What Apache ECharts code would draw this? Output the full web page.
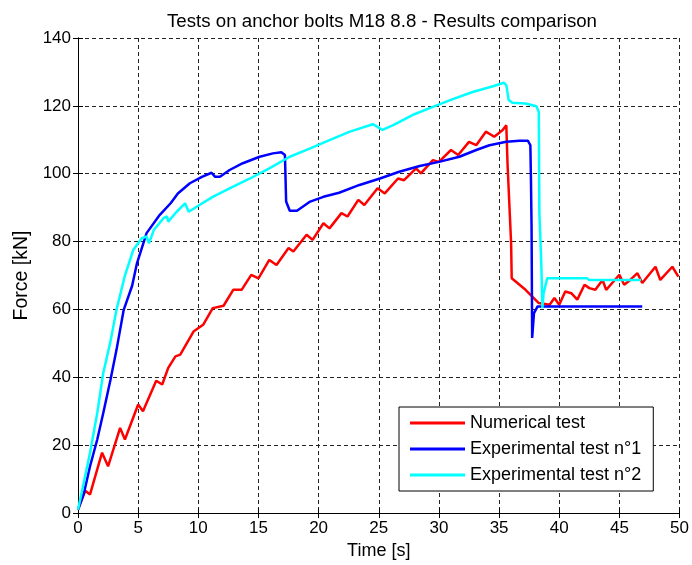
<!DOCTYPE html>
<html>
<head>
<meta charset="utf-8">
<script src="https://cdn.jsdelivr.net/npm/echarts@6/dist/echarts.min.js"></script>
<style>
html,body{margin:0;padding:0;background:#fff;}
#chart{width:692px;height:565px;}
</style>
</head>
<body>
<div id="chart"></div>
<script>
// ---- Data ----
var numT = [0, 0.6, 1.0, 2.0, 2.5, 3.5, 3.9, 5.0, 5.4, 6.5, 7.0, 7.5, 8.1, 8.5, 9.6, 10.4, 11.2, 12.1, 12.9, 13.6, 14.4, 15.0, 15.9, 16.5, 17.5, 17.9, 19.0, 19.5, 20.4, 20.9, 21.9, 22.4, 23.3, 23.8, 24.9, 25.5, 26.6, 27.1, 28.1, 28.5, 29.5, 30.0, 31.0, 31.6, 32.5, 33.1, 33.9, 34.6, 35.3, 35.6, 35.7, 35.85, 36.0, 36.05, 37.2, 38.3, 39.2, 39.6, 40.0, 40.5, 41.0, 41.5, 42.1, 42.5, 43.0, 43.6, 43.9, 44.4, 45.0, 45.4, 45.9, 46.5, 46.9, 48.0, 48.4, 49.4, 49.9];
var numF = [1, 6.6, 5.5, 17.8, 13.8, 25.1, 21.7, 32, 30, 39, 37.9, 42.8, 46.2, 46.7, 53.5, 55.5, 60.4, 61.1, 65.8, 65.8, 70.2, 69.2, 74.6, 73.1, 78.1, 77.1, 82, 80.5, 85.4, 83.9, 88.4, 87.4, 92.3, 90.8, 95.7, 94.2, 98.6, 98.1, 101.6, 100.1, 104, 103.5, 107, 105.5, 109.4, 108.4, 112.4, 110.9, 112.9, 114.3, 103.1, 91.3, 79.5, 69.2, 65.8, 61.9, 61.4, 63.4, 61.4, 65.3, 64.8, 62.9, 67.3, 66.3, 65.8, 68.7, 65.8, 67.8, 70.2, 67.3, 68.7, 70.7, 67.8, 72.6, 68.7, 72.6, 69.7];

var exp1T = [0, 0.5, 1.0, 1.6, 2.1, 2.7, 3.2, 3.8, 4.5, 4.9, 5.7, 6.8, 7.7, 8.3, 9.3, 10.3, 11.1, 11.4, 11.8, 12.6, 13.7, 15.1, 16.2, 16.9, 17.2, 17.3, 17.6, 18.2, 19.3, 20.4, 21.7, 23.4, 25.1, 26.7, 28.4, 30.0, 31.7, 33.1, 34.2, 35.6, 36.7, 37.4, 37.6, 37.65, 37.7, 37.75, 37.9, 38.2, 46.9];
var exp1F = [1, 6, 13.8, 21.7, 29.5, 39.3, 48.1, 59.9, 67, 73.6, 82.5, 87.9, 91.3, 94.2, 97.2, 99.1, 100.3, 99.1, 99.1, 101.1, 103.1, 105, 106, 106.3, 105.5, 91.8, 89.1, 89.1, 91.8, 93.2, 94.4, 96.7, 98.6, 100.6, 102.3, 103.5, 105, 107, 108.4, 109.4, 109.7, 109.7, 108.4, 98.1, 84.4, 51.6, 58.9, 60.9, 60.9];

var exp2T = [0, 0.3, 1.0, 1.6, 2.1, 2.7, 3.2, 3.9, 4.6, 5.3, 5.7, 5.9, 6.3, 7.1, 7.4, 7.5, 8.2, 8.9, 9.2, 10.1, 11.2, 12.6, 14.3, 15.9, 17.6, 19.3, 20.9, 22.6, 24.5, 24.9, 25.3, 26.2, 27.8, 29.5, 31.1, 32.8, 34.5, 35.4, 35.6, 35.8, 36.1, 37.2, 38.1, 38.3, 38.35, 38.5, 38.6, 38.7, 39.0, 42.3, 42.5, 46.8];
var exp2F = [1, 6, 17.8, 29.5, 41.3, 50.6, 59.9, 70, 77.6, 81, 81.5, 79.5, 83.4, 86.9, 87.4, 85.9, 88.8, 91.3, 88.8, 90.8, 93.2, 95.7, 98.6, 101.6, 105, 107.5, 109.9, 112.4, 114.6, 113.8, 112.9, 114.3, 117.3, 119.7, 121.9, 124.1, 125.8, 126.8, 126.1, 121.7, 120.9, 120.7, 119.9, 118.2, 88.4, 74.6, 60.4, 64.8, 69.2, 69.2, 68.7, 68.7];

var seriesNames = ['Numerical test', 'Experimental test n°1', 'Experimental test n°2'];
var seriesColors = ['#ff0000', '#0000ff', '#00ffff'];
var titleText = 'Tests on anchor bolts M18 8.8 - Results comparison';
var xName = 'Time [s]';
var yName = 'Force [kN]';

function zip(t, f) { return t.map(function (v, i) { return [v, f[i]]; }); }

var FONT = "'Liberation Sans', Arial, sans-serif";
var chart = echarts.init(document.getElementById('chart'), null, {renderer: 'canvas'});

var dashed = {show: true, lineStyle: {color: '#222', width: 1, type: [4, 3]}};
var axLine = {show: true, lineStyle: {color: '#000', width: 1}};
var tick = {show: true, inside: true, length: 5, lineStyle: {color: '#000'}};
// thin horizontal bar icon; the two tiny sub-paths only fix the bounding box (55 x 18)
var legendLineIcon = 'path://M0,0L0.01,0M0,7.5L55,7.5L55,10.5L0,10.5ZM55,18L54.99,18';

var option = {
  backgroundColor: '#fff',
  animation: false,
  title: {
    text: titleText,
    left: 377, top: 7, textAlign: 'center',
    textStyle: {fontFamily: FONT, fontSize: 18.7, fontWeight: 'normal', color: '#000'}
  },
  grid: {left: 78, right: 11, top: 38, bottom: 51, show: false},
  legend: {
    orient: 'vertical',
    left: 399, top: 407,
    padding: [7, 12, 7, 11],
    icon: legendLineIcon,
    itemWidth: 55, itemHeight: 18, itemGap: 8,
    borderColor: '#000', borderWidth: 1, backgroundColor: '#fff',
    textStyle: {fontFamily: FONT, fontSize: 18, color: '#000'},
    data: seriesNames
  },
  xAxis: [{
    type: 'value', min: 0, max: 50, interval: 5,
    name: xName, nameLocation: 'middle', nameGap: 27,
    nameTextStyle: {fontFamily: FONT, fontSize: 18, color: '#000'},
    axisLine: axLine, axisTick: tick, splitLine: dashed,
    axisLabel: {fontFamily: FONT, fontSize: 17, color: '#000', margin: 7}
  }, {
    type: 'value', min: 0, max: 50, interval: 5, position: 'top',
    axisLine: axLine, axisTick: tick, splitLine: {show: false}, axisLabel: {show: false}
  }],
  yAxis: [{
    type: 'value', min: 0, max: 140, interval: 20,
    name: yName, nameLocation: 'middle', nameGap: 46,
    nameTextStyle: {fontFamily: FONT, fontSize: 19.5, color: '#000'},
    axisLine: axLine, axisTick: tick, splitLine: dashed,
    axisLabel: {fontFamily: FONT, fontSize: 17, color: '#000', margin: 7}
  }, {
    type: 'value', min: 0, max: 140, interval: 20, position: 'right',
    axisLine: axLine, axisTick: tick, splitLine: {show: false}, axisLabel: {show: false}
  }],
  series: [
    {name: seriesNames[0], type: 'line', data: zip(numT, numF)},
    {name: seriesNames[1], type: 'line', data: zip(exp1T, exp1F)},
    {name: seriesNames[2], type: 'line', data: zip(exp2T, exp2F)}
  ].map(function (s, i) {
    s.showSymbol = false; s.symbol = 'none'; s.color = seriesColors[i];
    s.itemStyle = {color: seriesColors[i]};
    s.lineStyle = {width: 2.5, color: seriesColors[i]};
    s.xAxisIndex = 0; s.yAxisIndex = 0; s.z = 2 + i;
    return s;
  })
};
chart.setOption(option);
</script>
</body>
</html>
